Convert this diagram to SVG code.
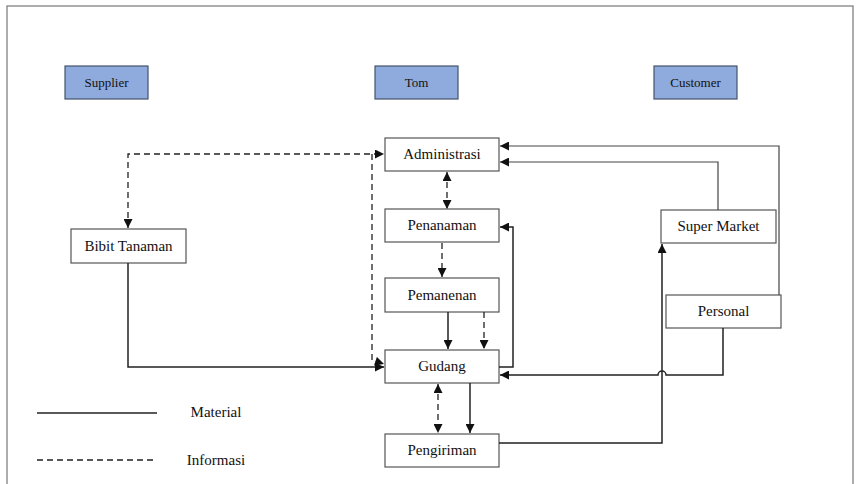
<svg xmlns="http://www.w3.org/2000/svg" width="860" height="484" viewBox="0 0 860 484">
<defs>
<marker id="ah" viewBox="0 0 10 10" refX="10" refY="5" markerWidth="10" markerHeight="9" markerUnits="userSpaceOnUse" orient="auto-start-reverse">
<path d="M0,0 L10,5 L0,10 Z" fill="#111"/>
</marker>
<style>
.hdr{fill:#8faadc;stroke:#44546a;stroke-width:1.2}
.box{fill:#fff;stroke:#555;stroke-width:1.2}
.ht{font-family:"Liberation Serif",serif;font-size:13px;fill:#111;text-anchor:middle}
.t{font-family:"Liberation Serif",serif;font-size:15px;fill:#111;text-anchor:middle}
.sol{fill:none;stroke:#222;stroke-width:1.5}
.thin{fill:none;stroke:#444;stroke-width:1.2}
.dash{fill:none;stroke:#222;stroke-width:1.3;stroke-dasharray:6,4}
</style>
</defs>
<rect x="0" y="0" width="860" height="484" fill="#fff"/>
<rect x="7" y="6" width="846" height="490" fill="none" stroke="#777" stroke-width="1.2"/>

<g id="supplier"><rect class="hdr" x="65" y="66" width="83" height="33"/><text class="ht" x="106.5" y="87">Supplier</text></g>
<g id="tom"><rect class="hdr" x="375" y="66" width="83" height="33"/><text class="ht" x="416.5" y="87">Tom</text></g>
<g id="customer"><rect class="hdr" x="654" y="66" width="83" height="33"/><text class="ht" x="695.5" y="87">Customer</text></g>

<g id="administrasi"><rect class="box" x="385" y="138" width="114" height="33"/><text class="t" x="442" y="159">Administrasi</text></g>
<g id="penanaman"><rect class="box" x="385" y="209" width="114" height="33"/><text class="t" x="442" y="230">Penanaman</text></g>
<g id="pemanenan"><rect class="box" x="385" y="278" width="114" height="34"/><text class="t" x="442" y="300">Pemanenan</text></g>
<g id="gudang"><rect class="box" x="385" y="350" width="114" height="33"/><text class="t" x="442" y="371">Gudang</text></g>
<g id="pengiriman"><rect class="box" x="385" y="434" width="114" height="33"/><text class="t" x="442" y="455">Pengiriman</text></g>
<g id="bibit"><rect class="box" x="71" y="229" width="115" height="34"/><text class="t" x="128.5" y="251">Bibit Tanaman</text></g>
<g id="supermarket"><rect class="box" x="661" y="210" width="115" height="33"/><text class="t" x="718.5" y="231">Super Market</text></g>
<g id="personal"><rect class="box" x="666" y="295" width="115" height="33"/><text class="t" x="723.5" y="316">Personal</text></g>

<g id="connectors">
<path class="dash" d="M128,228 L128,154 L384,154" marker-start="url(#ah)" marker-end="url(#ah)"/>
<path class="dash" d="M372,154 L372,360 L384,364" marker-end="url(#ah)"/>
<path class="sol" d="M128,263 L128,367 L384,367" marker-end="url(#ah)"/>
<path class="dash" d="M447,172 L447,209" marker-start="url(#ah)" marker-end="url(#ah)"/>
<path class="dash" d="M442,243 L442,277" marker-end="url(#ah)"/>
<path class="sol" d="M448,312 L448,349" marker-end="url(#ah)"/>
<path class="dash" d="M484,312 L484,349" marker-end="url(#ah)"/>
<path class="sol" d="M499,367 L513,367 L513,227 L500,227" marker-end="url(#ah)"/>
<path class="sol" d="M470,383 L470,433" marker-end="url(#ah)"/>
<path class="dash" d="M438,384 L438,433" marker-start="url(#ah)" marker-end="url(#ah)"/>
<path class="sol" d="M499,443 L662,443 L662,244" marker-end="url(#ah)"/>
<path class="sol" d="M723,328 L723,375 L666,375 A4,4 0 0 0 658,375 L500,375" marker-end="url(#ah)"/>
<path class="thin" d="M718,210 L718,162 L500,162" marker-end="url(#ah)"/>
<path class="thin" d="M779,295 L779,146 L500,146" marker-end="url(#ah)"/>
</g>

<g id="legend">
<line class="sol" x1="37" y1="413" x2="157" y2="413"/>
<text class="t" x="216" y="417">Material</text>
<line class="dash" x1="37" y1="460" x2="157" y2="460"/>
<text class="t" x="216" y="465">Informasi</text>
</g>
</svg>
